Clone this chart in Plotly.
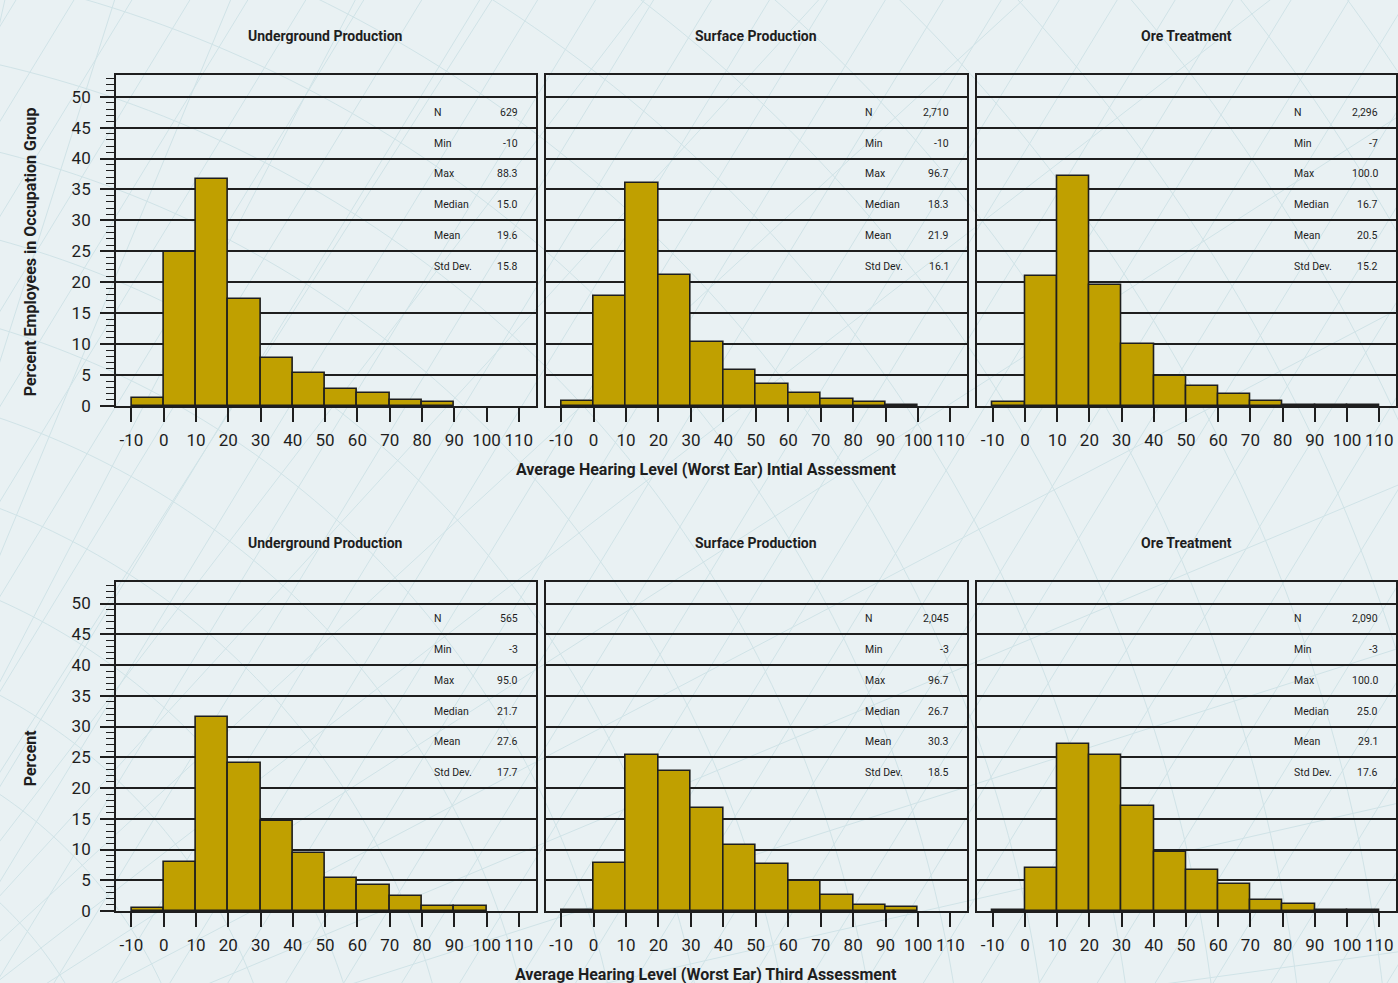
import numpy as np
import plotly.graph_objects as go

# ---- data -------------------------------------------------------------
bin_left = [-10, 0, 10, 20, 30, 40, 50, 60, 70, 80, 90, 100]
tick_values = [-10, 0, 10, 20, 30, 40, 50, 60, 70, 80, 90, 100, 110]
tick_labels = [str(v) for v in tick_values]
percent_ticks = [0, 5, 10, 15, 20, 25, 30, 35, 40, 45, 50]

groups = ["Underground Production", "Surface Production", "Ore Treatment"]

# percent of employees per 10 dB bin
underground_initial = [1.35, 24.9, 36.7, 17.3, 7.8, 5.4, 2.8, 2.1, 0.9, 0.6, None, None]
surface_initial = [0.86, 17.85, 36.0, 21.2, 10.4, 5.9, 3.5, 2.15, 1.1, 0.65, 0.2, None]
ore_initial = [0.65, 21.0, 37.2, 19.5, 10.05, 4.8, 3.3, 1.9, 0.86, 0.2, 0.15, 0.15]
underground_third = [0.5, 7.9, 31.5, 24.05, 14.7, 9.4, 5.3, 4.2, 2.4, 0.75, 0.75, None]
surface_third = [0.15, 7.8, 25.3, 22.8, 16.8, 10.8, 7.6, 4.95, 2.55, 0.9, 0.65, None]
ore_third = [0.15, 6.95, 27.2, 25.3, 17.0, 9.55, 6.7, 4.45, 1.8, 1.1, 0.15, 0.15]

stat_names = ["N", "Min", "Max", "Median", "Mean", "Std Dev."]
underground_initial_stats = ["629", "-10", "88.3", "15.0", "19.6", "15.8"]
surface_initial_stats = ["2,710", "-10", "96.7", "18.3", "21.9", "16.1"]
ore_initial_stats = ["2,296", "-7", "100.0", "16.7", "20.5", "15.2"]
underground_third_stats = ["565", "-3", "95.0", "21.7", "27.6", "17.7"]
surface_third_stats = ["2,045", "-3", "96.7", "26.7", "30.3", "18.5"]
ore_third_stats = ["2,090", "-3", "100.0", "25.0", "29.1", "17.6"]

rows = [
    ([underground_initial, surface_initial, ore_initial],
     [underground_initial_stats, surface_initial_stats, ore_initial_stats],
     "Percent Employees in Occupation Group",
     "Average Hearing Level (Worst Ear) Intial Assessment"),
    ([underground_third, surface_third, ore_third],
     [underground_third_stats, surface_third_stats, ore_third_stats],
     "Percent",
     "Average Hearing Level (Worst Ear) Third Assessment"),
]

# ---- styling ----------------------------------------------------------
W, H = 1398, 983
PLOT_H = 973  # usable drawing height in pixels
FONT = "Roboto, Liberation Sans, sans-serif"
BG = "#E9F1F3"
PATTERN = "#D0E3E7"
BAR = "#C0A000"
INK = "#1E1E1E"

col_px = [(116, 536), (546, 968), (978, 1397)]
row_px = [(75, 406), (582, 911)]
x_range = [-14.8, 115.2]
y_range = [0, 53.5]


def px_x(p):
    return p / W


def px_y(p):
    return 1 - p / PLOT_H


fig = go.Figure()
annotations = []
shapes = []

# decorative background linework (drawn beneath everything)
for x0 in np.arange(-700, 1500, 58):
    shapes.append(dict(type="line", xref="paper", yref="paper", layer="below",
                       x0=px_x(x0), y0=px_y(H), x1=px_x(x0 + 600), y1=px_y(0),
                       line=dict(color=PATTERN, width=1)))
cx, cy = -260, 1180
theta = np.linspace(-np.pi / 2, 0.1, 120)
for r in np.arange(380, 2300, 85):
    xs = cx + r * np.cos(theta)
    ys = cy + r * np.sin(theta)
    path = "M " + " L ".join(f"{px_x(a):.5f},{px_y(b):.5f}" for a, b in zip(xs, ys))
    shapes.append(dict(type="path", xref="paper", yref="paper", layer="below",
                       path=path, line=dict(color=PATTERN, width=1)))
for ang in np.linspace(-1.35, -0.05, 16):
    shapes.append(dict(type="line", xref="paper", yref="paper", layer="below",
                       x0=px_x(cx), y0=px_y(cy),
                       x1=px_x(cx + 2600 * np.cos(ang)), y1=px_y(cy + 2600 * np.sin(ang)),
                       line=dict(color=PATTERN, width=1)))


def label(x, y, text, size, **kw):
    base = dict(xref="paper", yref="paper", x=x, y=y, text=text, showarrow=False,
                xanchor="center", yanchor="middle",
                font=dict(family=FONT, size=size, color=INK))
    base.update(kw)
    return base


bar_x = [b + 5 for b in bin_left]
idx = 0
for r, (series, stats, ytitle, xtitle) in enumerate(rows):
    top, bottom = row_px[r]
    for c in range(3):
        idx += 1
        xa = "x" if idx == 1 else f"x{idx}"
        ya = "y" if idx == 1 else f"y{idx}"
        left, right = col_px[c]
        fig.add_trace(go.Bar(
            x=bar_x, y=series[c], width=10, xaxis=xa, yaxis=ya,
            marker=dict(color=BAR, line=dict(color=INK, width=1.6)),
            showlegend=False, hoverinfo="x+y"))

        first = c == 0
        fig.layout[f"xaxis{'' if idx == 1 else idx}"] = dict(
            domain=[px_x(left), px_x(right)], anchor=ya, range=x_range,
            showline=True, mirror=True, linecolor=INK, linewidth=1.6,
            showgrid=False, zeroline=False, fixedrange=True,
            tickmode="array", tickvals=tick_values, ticktext=tick_labels,
            ticks="outside", ticklen=14, tickwidth=2, tickcolor=INK,
            tickangle=0, ticklabelstandoff=4,
            tickfont=dict(family=FONT, size=17, color=INK))
        fig.layout[f"yaxis{'' if idx == 1 else idx}"] = dict(
            domain=[px_y(bottom), px_y(top)], anchor=xa, range=y_range,
            showline=True, mirror=True, linecolor=INK, linewidth=1.6,
            showgrid=True, gridcolor=INK, gridwidth=1.6, zeroline=False,
            fixedrange=True,
            tickmode="array", tickvals=percent_ticks,
            ticks="outside" if first else "", ticklen=14, tickwidth=1.6,
            tickcolor=INK, showticklabels=first, ticklabelstandoff=6,
            tickfont=dict(family=FONT, size=17, color=INK),
            minor=dict(dtick=1, tick0=0, ticks="outside" if first else "",
                       ticklen=8, tickwidth=1.2, tickcolor=INK, showgrid=False))

        # panel title
        annotations.append(label(px_x((left + right) / 2), px_y(top - 39),
                                 f"<b>{groups[c]}</b>", 14))

        # summary statistics table
        for k, name in enumerate(stat_names):
            yv = 47.5 - 5 * k
            annotations.append(dict(
                xref=xa, yref=ya, x=83, y=yv, text=name, showarrow=False,
                xanchor="left", yanchor="middle",
                font=dict(family=FONT, size=10.5, color=INK)))
            annotations.append(dict(
                xref=xa, yref=ya, x=110.3, y=yv, text=stats[c][k], showarrow=False,
                xanchor="right", yanchor="middle",
                font=dict(family=FONT, size=10.5, color=INK)))

    # row-level axis titles
    zero_px = bottom
    fifty_px = bottom - (bottom - top) * 50 / y_range[1]
    annotations.append(label(px_x(30), px_y((zero_px + fifty_px) / 2),
                             f"<b>{ytitle}</b>", 16, textangle=-90))
    annotations.append(label(px_x(707), px_y(bottom + 64),
                             f"<b>{xtitle}</b>", 16))

fig.update_layout(
    width=W, height=H, margin=dict(l=0, r=0, t=0, b=0),
    paper_bgcolor=BG, plot_bgcolor="rgba(0,0,0,0)",
    annotations=annotations, shapes=shapes, bargap=0,
    showlegend=False)

fig.write_html("out.html")
